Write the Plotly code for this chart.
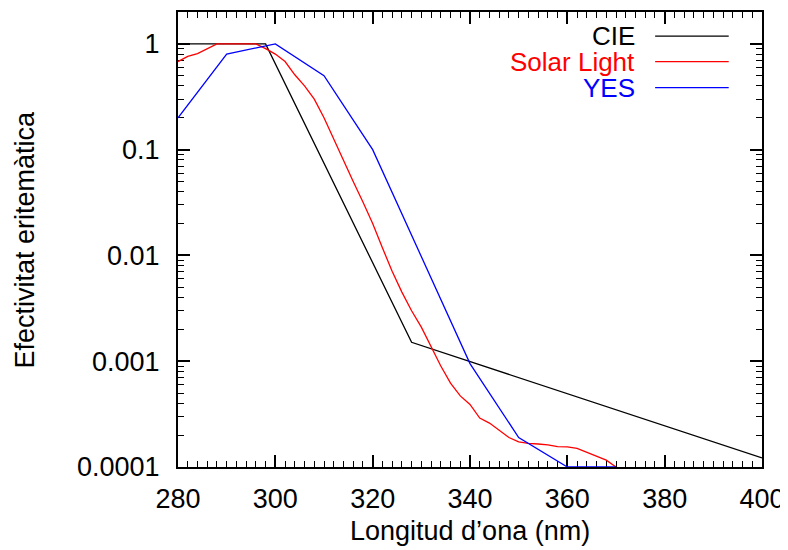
import plotly.graph_objects as go

# ---- data ----
cie_wl = [280, 298, 328, 400]
cie_val = [1.0, 1.0, 0.00151, 0.000122]

solar_wl = [280, 282, 284, 286, 288, 290, 292, 294, 296, 298, 300, 302, 304, 306, 308,
            310, 312, 314, 316, 318, 320, 322, 324, 326, 328, 330, 332, 334, 336, 338,
            340, 342, 344, 346, 348, 350, 352, 354, 356, 358, 360, 362, 364, 366, 368, 370]
solar_val = [0.68, 0.76, 0.81, 0.90, 1.0, 1.0, 1.0, 1.0, 1.0, 0.90, 0.80, 0.68, 0.51, 0.40, 0.30,
             0.20, 0.125, 0.078, 0.050, 0.032, 0.020, 0.0118, 0.0071, 0.0045, 0.0030, 0.0021, 0.00135, 0.0009, 0.00062, 0.00047,
             0.00039, 0.00029, 0.00026, 0.00022, 0.00019, 0.000173, 0.000167, 0.000165, 0.000162, 0.000156, 0.000155, 0.00015, 0.000138, 0.000127, 0.000116, 0.0001]

yes_wl = [280, 290, 300, 310, 320, 330, 340, 350, 360, 370]
yes_val = [0.2, 0.8, 1.0, 0.5, 0.1, 0.0098, 0.00095, 0.00019, 0.0001, 0.0001]

series_names = ["CIE", "Solar Light", "YES"]
series_colors = ["#000000", "#ff0000", "#0000ff"]

x_ticks = [280, 300, 320, 340, 360, 380, 400]
y_ticks = [0.0001, 0.001, 0.01, 0.1, 1]
y_ticklabels = ["0.0001", "0.001", "0.01", "0.1", "1"]
y_minor = [m * 10.0 ** e for e in range(-4, 1) for m in range(2, 10) if m * 10.0 ** e <= 2.0]

FONT = "Liberation Sans, Arial, sans-serif"
FS_TICK = 27
FS_TITLE = 27
FS_LEG = 26

fig = go.Figure()
for name, wl, val, col in zip(series_names,
                              [cie_wl, solar_wl, yes_wl],
                              [cie_val, solar_val, yes_val],
                              series_colors):
    fig.add_trace(go.Scatter(x=wl, y=val, mode="lines", name=name,
                             line=dict(color=col, width=1.3), showlegend=False))

# gnuplot-style legend: right-aligned text with line sample on the right
leg_y = [0.947, 0.891, 0.834]
for name, col, yy in zip(series_names, series_colors, leg_y):
    fig.add_annotation(xref="paper", yref="paper", x=0.786, y=yy, text=name,
                       showarrow=False, xanchor="right", yanchor="middle",
                       font=dict(family=FONT, size=FS_LEG, color=col))
    fig.add_shape(type="line", xref="paper", yref="paper", x0=0.817, x1=0.943, y0=yy, y1=yy,
                  line=dict(color=col, width=1.3))

# axis titles
fig.add_annotation(xref="paper", yref="paper", x=0.5, y=-0.14, text="Longitud d’ona (nm)",
                   showarrow=False, xanchor="center", yanchor="middle",
                   font=dict(family=FONT, size=FS_TITLE, color="black"))
fig.add_annotation(xref="paper", yref="paper", x=-0.262, y=0.5, text="Efectivitat eritemàtica",
                   showarrow=False, xanchor="center", yanchor="middle", textangle=-90,
                   font=dict(family=FONT, size=FS_TITLE, color="black"))

# page body has an 8px margin: size the figure so the plot area lands where the reference has it
fig.update_layout(
    width=780, height=542,
    margin=dict(l=170, r=26, t=2, b=83),
    paper_bgcolor="white", plot_bgcolor="white",
    font=dict(family=FONT, size=FS_TICK, color="black"),
    xaxis=dict(range=[280, 400], tickvals=x_ticks, ticks="inside", ticklen=12, tickwidth=1.5,
               tickcolor="black", showgrid=False, zeroline=False, showline=True, linecolor="black",
               linewidth=2, mirror="allticks", layer="below traces", ticklabelstandoff=7,
               tickfont=dict(size=FS_TICK),
               minor=dict(dtick=2, ticks="inside", ticklen=6, tickwidth=1.2, tickcolor="black", showgrid=False)),
    yaxis=dict(type="log", range=[-4, 0.30103], tickvals=y_ticks, ticktext=y_ticklabels,
               ticks="inside", ticklen=12, tickwidth=1.5, tickcolor="black", showgrid=False,
               zeroline=False, showline=True, linecolor="black", linewidth=2, mirror="allticks",
               layer="below traces", ticklabelstandoff=11, tickfont=dict(size=FS_TICK),
               minor=dict(tickvals=y_minor, ticks="inside", ticklen=6, tickwidth=1.2,
                          tickcolor="black", showgrid=False)),
)

fig.write_html("out.html")
